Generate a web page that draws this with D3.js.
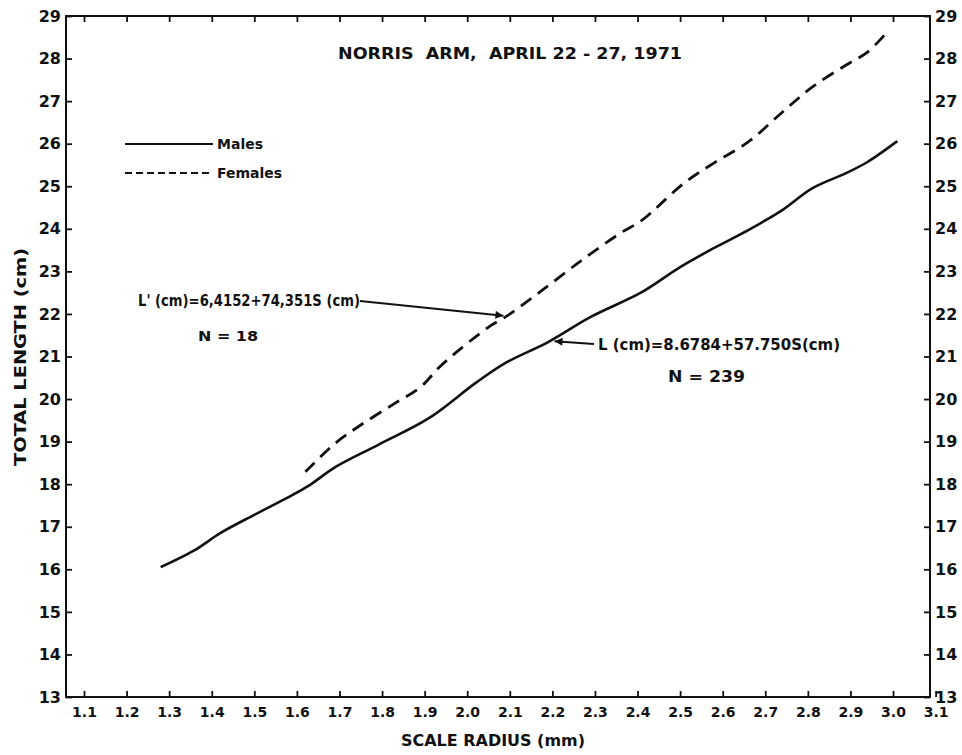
<!DOCTYPE html>
<html>
<head>
<meta charset="utf-8">
<script src="https://cdn.jsdelivr.net/npm/d3@7"></script>
<style>
  html, body { margin: 0; padding: 0; background: #fff; }
  svg { display: block; }
  text { font-family: "DejaVu Sans", "Liberation Sans", sans-serif; font-weight: bold; fill: #111; }
</style>
</head>
<body>
<svg id="chart" width="962" height="755"></svg>
<script>
// ── DATA ───────────────────────────────────────────────────────────────────
const maleS   = [1.28, 1.36, 1.42, 1.50, 1.59, 1.63, 1.69, 1.79, 1.91, 2.02, 2.09, 2.19, 2.29, 2.41, 2.50, 2.58, 2.66, 2.74, 2.81, 2.89, 2.94, 3.01];
const maleL   = [16.05, 16.45, 16.85, 17.28, 17.75, 17.98, 18.40, 18.92, 19.55, 20.38, 20.85, 21.34, 21.93, 22.51, 23.10, 23.55, 23.97, 24.44, 24.95, 25.31, 25.57, 26.06];
const femaleS = [1.62, 1.69, 1.75, 1.83, 1.89, 1.94, 2.05, 2.09, 2.17, 2.27, 2.36, 2.41, 2.51, 2.58, 2.66, 2.74, 2.81, 2.89, 2.94, 2.99];
const femaleL = [18.29, 18.96, 19.39, 19.90, 20.28, 20.80, 21.69, 21.93, 22.51, 23.27, 23.90, 24.20, 25.08, 25.55, 26.04, 26.74, 27.33, 27.85, 28.15, 28.67];

const xTicks = d3.range(11, 32).map(d => d / 10);   // 1.1 … 3.1
const yTicks = d3.range(13, 30);                      // 13 … 29

const TITLE   = 'NORRIS  ARM,  APRIL 22 - 27, 1971';
const X_TITLE = 'SCALE  RADIUS (mm)';
const Y_TITLE = 'TOTAL LENGTH (cm)';
const EQ_F = "L' (cm)=6,4152+74,351S (cm)";
const N_F  = 'N = 18';
const EQ_M = 'L (cm)=8.6784+57.750S(cm)';
const N_M  = 'N = 239';

// ── SCALES ─────────────────────────────────────────────────────────────────
const frame = { left: 66, right: 930, top: 16, bottom: 697 };
const xAt = v => 84 + (v - 1.1) * 425.8;
const x = d3.scaleLinear().domain([1.1, 3.0]).range([xAt(1.1), xAt(3.0)]);
const y = d3.scaleLinear().domain([13, 29]).range([frame.bottom, frame.top]);

const svg = d3.select('#chart');

// frame
svg.append('rect')
  .attr('x', frame.left).attr('y', frame.top)
  .attr('width', frame.right - frame.left).attr('height', frame.bottom - frame.top)
  .attr('fill', 'none').attr('stroke', '#111').attr('stroke-width', 2);

// ── AXES ───────────────────────────────────────────────────────────────────
const TICK = 6;
const tickStyle = size => g => {
  g.select('.domain').remove();
  g.selectAll('.tick line').attr('stroke', '#111').attr('stroke-width', 1.8);
  g.selectAll('.tick text').attr('font-size', size).attr('fill', '#111')
    .style('font-family', '"DejaVu Sans", sans-serif').style('font-weight', 'bold');
};

svg.append('g')
  .attr('transform', `translate(0,${frame.bottom})`)
  .call(d3.axisBottom(x).tickValues(xTicks).tickSizeInner(-TICK).tickSizeOuter(0)
    .tickPadding(10).tickFormat(d3.format('.1f')))
  .call(tickStyle(14));

svg.append('g')
  .attr('transform', `translate(0,${frame.top})`)
  .call(d3.axisTop(x).tickValues(xTicks.filter(d => d < 3.08)).tickSizeInner(-TICK).tickSizeOuter(0)
    .tickFormat(''))
  .call(tickStyle(14));

svg.append('g')
  .attr('transform', `translate(${frame.left},0)`)
  .call(d3.axisLeft(y).tickValues(yTicks).tickSizeInner(-TICK).tickSizeOuter(0)
    .tickPadding(5).tickFormat(d3.format('d')))
  .call(tickStyle(16));

svg.append('g')
  .attr('transform', `translate(${frame.right},0)`)
  .call(d3.axisRight(y).tickValues(yTicks).tickSizeInner(-TICK).tickSizeOuter(0)
    .tickPadding(5).tickFormat(d3.format('d')))
  .call(tickStyle(16));

// axis titles
svg.append('text')
  .attr('x', 401).attr('y', 746)
  .attr('font-size', 16)
  .attr('textLength', 184).attr('lengthAdjust', 'spacingAndGlyphs')
  .text(X_TITLE);

svg.append('text')
  .attr('transform', 'translate(26,466) rotate(-90)')
  .attr('font-size', 16)
  .attr('textLength', 218).attr('lengthAdjust', 'spacingAndGlyphs')
  .text(Y_TITLE);

// title
svg.append('text')
  .attr('x', 338).attr('y', 59)
  .attr('font-size', 16)
  .attr('textLength', 344).attr('lengthAdjust', 'spacingAndGlyphs')
  .style('white-space', 'pre')
  .text(TITLE);

// ── LINES ──────────────────────────────────────────────────────────────────
const line = d3.line().x(d => x(d[0])).y(d => y(d[1])).curve(d3.curveCatmullRom);

svg.append('path')
  .datum(d3.zip(maleS, maleL))
  .attr('d', line)
  .attr('fill', 'none').attr('stroke', '#111').attr('stroke-width', 2.6);

svg.append('path')
  .datum(d3.zip(femaleS, femaleL))
  .attr('d', line)
  .attr('fill', 'none').attr('stroke', '#111').attr('stroke-width', 2.8)
  .attr('stroke-dasharray', '13 8');

// ── LEGEND ─────────────────────────────────────────────────────────────────
const legend = svg.append('g');
[['Males', null, 144], ['Females', '7 4', 173]].forEach(([label, dash, ly]) => {
  legend.append('line')
    .attr('x1', 125).attr('x2', 213).attr('y1', ly).attr('y2', ly)
    .attr('stroke', '#111').attr('stroke-width', 2)
    .attr('stroke-dasharray', dash);
  legend.append('text')
    .attr('x', 217).attr('y', ly + 5).attr('font-size', 14)
    .text(label);
});

// ── ANNOTATIONS ────────────────────────────────────────────────────────────
svg.append('defs').append('marker')
  .attr('id', 'arrow').attr('viewBox', '0 0 10 10')
  .attr('refX', 10).attr('refY', 5)
  .attr('markerUnits', 'userSpaceOnUse')
  .attr('markerWidth', 14).attr('markerHeight', 8)
  .attr('orient', 'auto')
  .append('path').attr('d', 'M0,0 L10,5 L0,10 Z').attr('fill', '#111');

// females
svg.append('text')
  .attr('x', 138).attr('y', 306).attr('font-size', 15)
  .attr('textLength', 222).attr('lengthAdjust', 'spacingAndGlyphs')
  .text(EQ_F);
svg.append('line')
  .attr('x1', 360).attr('y1', 301).attr('x2', x(2.085)).attr('y2', y(21.96))
  .attr('stroke', '#111').attr('stroke-width', 2)
  .attr('marker-end', 'url(#arrow)');
svg.append('text')
  .attr('x', 198).attr('y', 341).attr('font-size', 14)
  .attr('textLength', 60).attr('lengthAdjust', 'spacingAndGlyphs')
  .text(N_F);

// males
svg.append('text')
  .attr('x', 598).attr('y', 350).attr('font-size', 15)
  .attr('textLength', 242).attr('lengthAdjust', 'spacingAndGlyphs')
  .text(EQ_M);
svg.append('line')
  .attr('x1', 594).attr('y1', 344).attr('x2', x(2.205)).attr('y2', y(21.36))
  .attr('stroke', '#111').attr('stroke-width', 2)
  .attr('marker-end', 'url(#arrow)');
svg.append('text')
  .attr('x', 668).attr('y', 382).attr('font-size', 16)
  .attr('textLength', 77).attr('lengthAdjust', 'spacingAndGlyphs')
  .text(N_M);
</script>
</body>
</html>
